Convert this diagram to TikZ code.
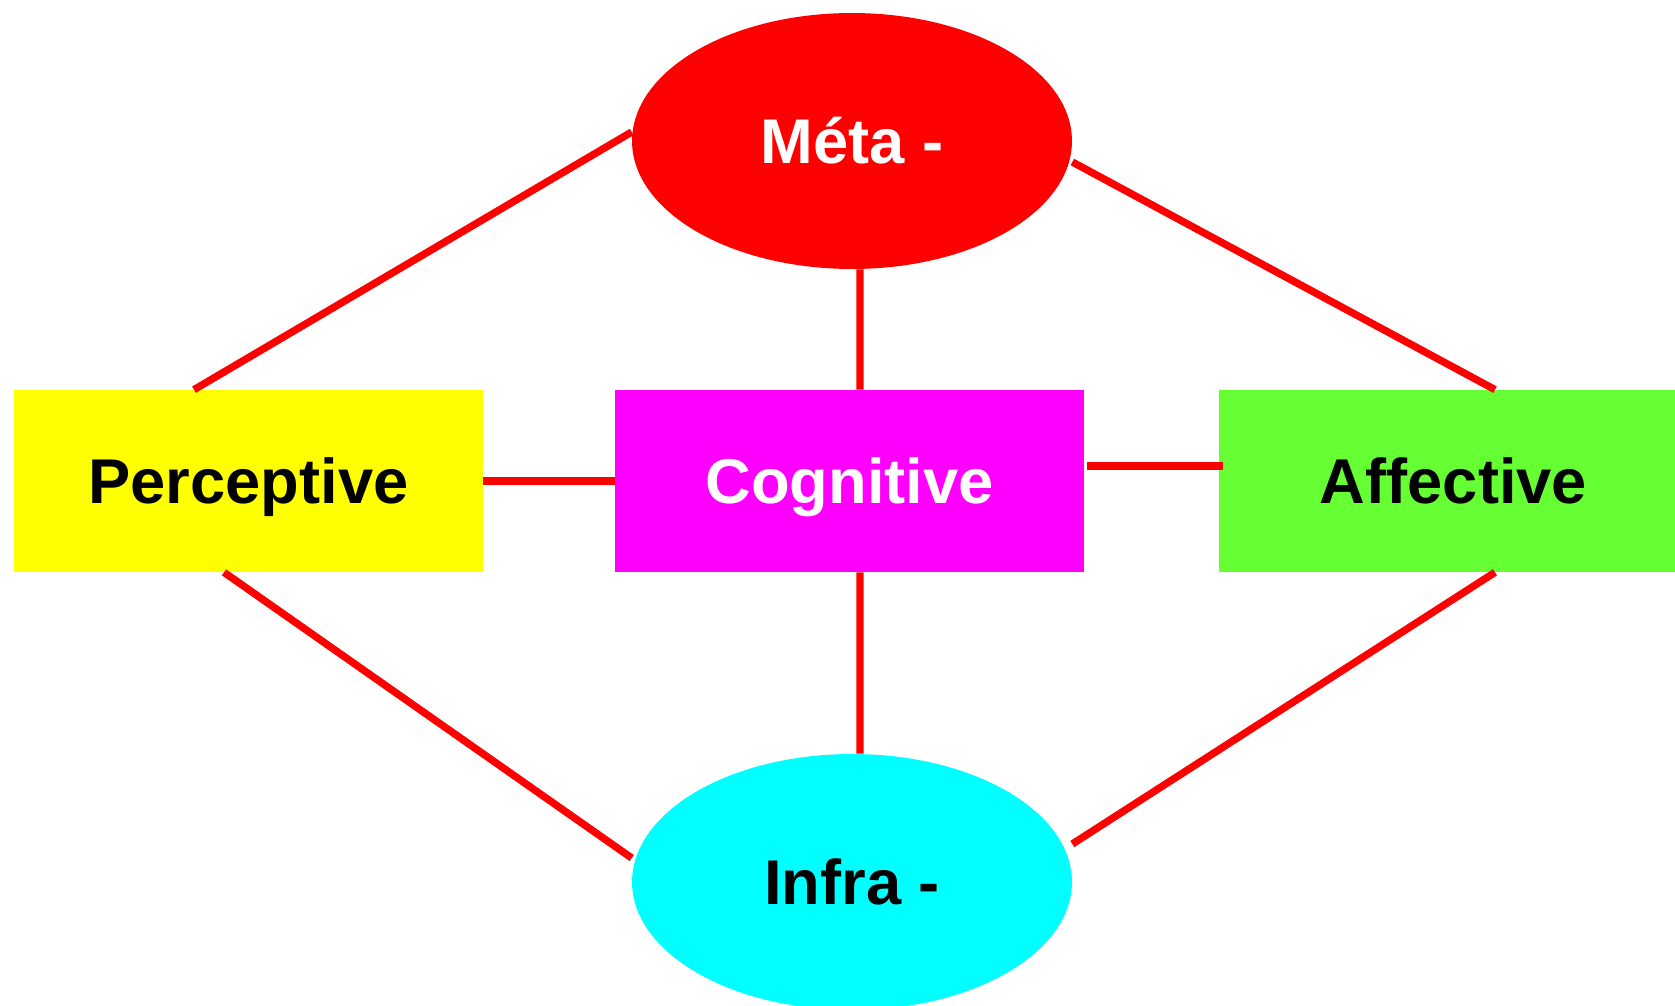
\documentclass[tikz,border=0pt]{standalone}
\usepackage{fontspec}
\setmainfont{Liberation Sans}
\usepackage{tikz}
\usetikzlibrary{shapes.geometric}
\definecolor{metared}{HTML}{FF0000}
\definecolor{percyellow}{HTML}{FFFF00}
\definecolor{cogmagenta}{HTML}{FF00FF}
\definecolor{affgreen}{HTML}{66FF33}
\definecolor{infracyan}{HTML}{00FFFF}
\tikzset{
	ovalstyle/.style={ellipse,minimum width=8.8cm,minimum height=5.12cm,inner sep=0pt},
	boxstyle/.style={rectangle,minimum width=9.38cm,minimum height=3.64cm,inner sep=0pt,text depth=0pt},
	linkstyle/.style={draw=metared,line width=4.2pt}
}

\begin{document}
\begin{tikzpicture}[x=0.02cm,y=-0.02cm]
		\fontsize{36}{43}\selectfont\bfseries
		\useasboundingbox (0,0) rectangle (1675,1006);
		\node[ovalstyle,fill=metared,text=white] (meta) at (852,141) {Méta -};
		\node[ovalstyle,fill=infracyan] (infra) at (852,882) {Infra -};
		\node[boxstyle,fill=percyellow] (perc) at (248.5,481) {Perceptive};
		\node[boxstyle,fill=cogmagenta,text=white] (cog) at (849.5,481) {Cognitive};
		\node[boxstyle,fill=affgreen] (aff) at (1453.5,481) {Affective};
		\draw[linkstyle] ([yshift=0.18cm]meta.west)--([xshift=-1.09cm]perc.north);
		\draw[linkstyle] ([yshift=-0.42cm]meta.east)--([xshift=0.83cm]aff.north);
		\draw[linkstyle] ([xshift=0.16cm]meta.south)--([xshift=0.21cm]cog.north);
		\draw[linkstyle] ([xshift=0.21cm]cog.south)--([xshift=0.16cm]infra.north);
		\draw[linkstyle] (perc.east)--(cog.west);
		\draw[linkstyle] ([xshift=0.06cm,yshift=0.3cm]cog.east)--([xshift=0.08cm,yshift=0.3cm]aff.west);
		\draw[linkstyle] ([xshift=-0.49cm]perc.south)--([yshift=0.48cm]infra.west);
		\draw[linkstyle] ([xshift=0.83cm]aff.south)--([yshift=0.76cm]infra.east);
		\end{tikzpicture}
\end{document}
